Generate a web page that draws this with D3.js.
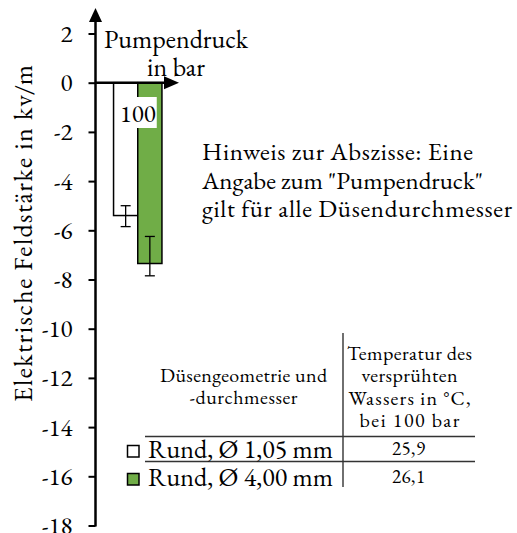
<!DOCTYPE html>
<html>
<head>
<meta charset="utf-8">
<script src="https://cdn.jsdelivr.net/npm/d3@7/dist/d3.min.js"></script>
<style>
  html, body { margin: 0; padding: 0; background: #fff; }
  svg { display: block; }
</style>
</head>
<body>
<svg id="chart" width="517" height="533"></svg>
<script>
// ---- data ----
const categories = ["100"];                       // Pumpendruck in bar
const series = ["Rund, Ø 1,05 mm", "Rund, Ø 4,00 mm"];
const means = [-5.4, -7.35];
const errHigh = [-5.0, -6.25];
const errLow = [-5.85, -7.85];
const temperatures = ["25,9", "26,1"];
const yTicks = [2, 0, -2, -4, -6, -8, -10, -12, -14, -16, -18];
const seriesColors = ["#ffffff", "#70AD47"];
const yTitle = "Elektrische Feldstärke in kv/m";
const xTitle = ["Pumpendruck", "in bar"];
const noteLines = ["Hinweis zur Abszisse: Eine", "Angabe zum \"Pumpendruck\"", "gilt für alle Düsendurchmesser"];
const headLeft = ["Düsengeometrie und", "-durchmesser"];
const headRight = ["Temperatur des", "versprühten", "Wassers in °C,", "bei 100 bar"];

// ---- layout ----
const FONT = '"EB Garamond"';
const svg = d3.select("#chart");
const axisX = 95.5;
const y = d3.scaleLinear().domain([-18, 2]).range([525.5, 33.5]);

const x0 = d3.scaleBand().domain(categories).range([axisX, 180]).paddingInner(0).paddingOuter(0.373);
const x1 = d3.scaleBand().domain(series).range([0, x0.bandwidth()]);

function fit(t, len) {
  if (!len) return t;
  const w = t.node().getComputedTextLength();
  if (w < len) t.attr("textLength", len).attr("lengthAdjust", "spacing");
  return t;
}
function txt(x, yy, s, size, anchor, len) {
  const t = svg.append("text").attr("x", x).attr("y", yy)
    .style("font-family", FONT).style("font-size", size + "px").style("fill", "#000")
    .attr("text-anchor", anchor || "start").text(s);
  return fit(t, len);
}

// bars
const g = svg.append("g");
categories.forEach(cat => {
  series.forEach((s, i) => {
    const bx = x0(cat) + x1(s);
    g.append("rect")
      .attr("x", bx).attr("y", y(0))
      .attr("width", x1.bandwidth()).attr("height", y(means[i]) - y(0))
      .attr("fill", seriesColors[i]).attr("stroke", "#000").attr("stroke-width", 1.5);
  });
  series.forEach((s, i) => {
    const cx = x0(cat) + x1(s) + x1.bandwidth() / 2;
    const hw = 5;
    g.append("line").attr("x1", cx).attr("x2", cx).attr("y1", y(errHigh[i])).attr("y2", y(errLow[i]))
      .attr("stroke", "#000").attr("stroke-width", 1.3);
    [errHigh[i], errLow[i]].forEach(v => {
      g.append("line").attr("x1", cx - hw).attr("x2", cx + hw).attr("y1", y(v)).attr("y2", y(v))
        .attr("stroke", "#000").attr("stroke-width", 1.3);
    });
  });
  const cx = x0(cat) + x0.bandwidth() / 2;
  svg.append("rect").attr("x", cx - 19).attr("y", 97).attr("width", 38).attr("height", 31).attr("fill", "#fff");
  txt(cx, 122, cat, 25, "middle", 35);
});

// y axis
const yAxis = d3.axisLeft(y).tickValues(yTicks).tickSize(7).tickPadding(16).tickFormat(d => String(d));
const ag = svg.append("g").attr("transform", `translate(${axisX},0)`).call(yAxis);
ag.select(".domain").remove();
ag.selectAll(".tick line").attr("stroke", "#000").attr("stroke-width", 2);
ag.selectAll(".tick text").style("font-family", FONT).style("font-size", "25px").style("fill", "#000");
svg.append("line").attr("x1", axisX).attr("x2", axisX).attr("y1", y(-18) + 1).attr("y2", 20)
  .attr("stroke", "#000").attr("stroke-width", 2.5);
svg.append("path").attr("d", `M${axisX},8 L${axisX - 6.5},22 L${axisX + 6.5},22 Z`).attr("fill", "#000");

// x axis
svg.append("line").attr("x1", axisX).attr("x2", 166).attr("y1", y(0)).attr("y2", y(0))
  .attr("stroke", "#000").attr("stroke-width", 2.5);
svg.append("path").attr("d", `M179,${y(0)} L164,${y(0) - 6.5} L164,${y(0) + 6.5} Z`).attr("fill", "#000");

// titles
const yt = svg.append("text").attr("transform", "translate(32,233.5) rotate(-90)")
  .style("font-family", FONT).style("font-size", "26px").style("fill", "#000")
  .attr("text-anchor", "middle").text(yTitle);
fit(yt, 337);
txt(176, 48, xTitle[0], 26, "middle", 142);
txt(176, 76, xTitle[1], 26, "middle", 58);

// note
const noteLens = [271, 256, 310];
noteLines.forEach((s, i) => txt(202, 160 + i * 28.5, s, 25, "start", noteLens[i]));

// table
const hlLens = [167, 108];
headLeft.forEach((s, i) => txt(243.5, 381.5 + i * 22.5, s, 20, "middle", hlLens[i]));
const hrLens = [125, 96, 122, 100];
headRight.forEach((s, i) => txt(409.5, 360 + i * 22.3, s, 20, "middle", hrLens[i]));

svg.append("line").attr("x1", 343).attr("x2", 343).attr("y1", 333).attr("y2", 487)
  .attr("stroke", "#222").attr("stroke-width", 1.3);
[436.5, 461.5].forEach(v => svg.append("line").attr("x1", 145).attr("x2", 475).attr("y1", v).attr("y2", v)
  .attr("stroke", "#333").attr("stroke-width", 1.5));

series.forEach((s, i) => {
  const by = 458 + i * 28;
  svg.append("rect").attr("x", 127.5).attr("y", by - 12.5).attr("width", 11.5).attr("height", 11.5)
    .attr("fill", seriesColors[i]).attr("stroke", "#000").attr("stroke-width", 1.5);
  txt(148, by, s, 26, "start", 185);
  txt(408.5, by - 3, temperatures[i], 19, "middle", 33);
});
</script>
</body>
</html>
